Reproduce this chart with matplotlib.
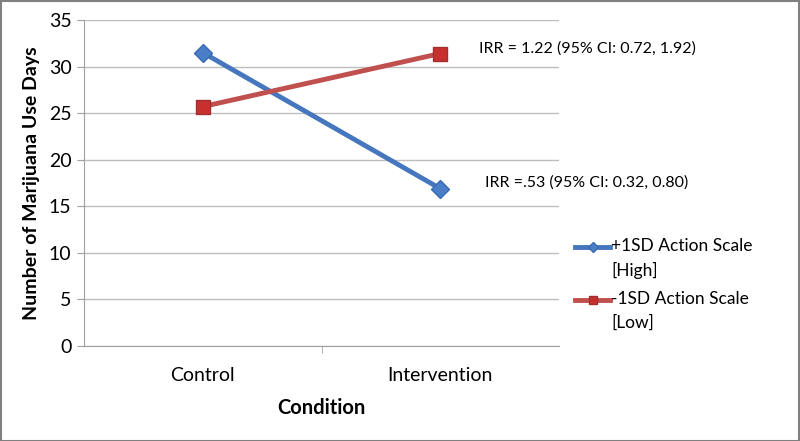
import matplotlib
matplotlib.use("Agg")
import matplotlib.pyplot as plt
from matplotlib.patches import Rectangle
from matplotlib.lines import Line2D

plt.rcParams['font.family'] = ['Lato', 'DejaVu Sans']

categories = ["Control", "Intervention"]
high_vals = [31.5, 16.9]
low_vals = [25.7, 31.4]
high_label = "+1SD Action Scale\n[High]"
low_label = "-1SD Action Scale\n[Low]"
ann_low = "IRR = 1.22 (95% CI: 0.72, 1.92)"
ann_high = "IRR =.53 (95% CI: 0.32, 0.80)"
yticks = [0, 5, 10, 15, 20, 25, 30, 35]

fig = plt.figure(figsize=(8, 4.41), dpi=100)
ax = fig.add_axes([84/800, 1-346/441, (559-84)/800, (346-20)/441])

x = [0.5, 1.5]
hl, = ax.plot(x, high_vals, color='#4677BE', lw=3.5, marker='D', ms=9, mfc='#4A7EC8', mec='#3A6AAE', label=high_label, zorder=3)
ll, = ax.plot(x, low_vals, color='#C0504D', lw=3.5, marker='s', ms=10, mfc='#C8302E', mec='#A03030', label=low_label, zorder=3)

ax.set_xlim(0, 2)
ax.set_ylim(0, 35)
ax.set_yticks(yticks)
ax.set_yticklabels([str(v) for v in yticks], fontsize=14)
ax.set_xticks(x)
ax.set_xticklabels(categories, fontsize=14)
ax.tick_params(axis='x', length=0, pad=15)
ax.set_xticks([1.0], minor=True)
ax.tick_params(axis='x', which='minor', length=5, color='#A0A0A0', direction='out')
ax.tick_params(axis='y', length=5, color='#A0A0A0', pad=4)
ax.grid(axis='y', color='#BEBEBE', lw=1)
ax.set_axisbelow(True)
for s in ['top', 'right']:
    ax.spines[s].set_visible(False)
ax.spines['left'].set_color('#A0A0A0')
ax.spines['bottom'].set_color('#A0A0A0')
ax.set_ylabel("Number of Marijuana Use Days", fontsize=14, fontweight='bold', labelpad=6)
ax.set_xlabel("Condition", fontsize=14.5, fontweight='bold', labelpad=10)

ax.text(1.665, 31.9, ann_low, fontsize=11.5, va='center', ha='left')
ax.text(1.69, 17.6, ann_high, fontsize=11.5, va='center', ha='left')

# legend drawn manually so the handle aligns with the first text line
for line, ypix in [(hl, 247), (ll, 300)]:
    yf = 1 - ypix/441
    fig.add_artist(Line2D([575/800, 610/800], [yf, yf], transform=fig.transFigure,
                          color=line.get_color(), lw=3.5))
    fig.add_artist(Line2D([592.5/800], [yf], transform=fig.transFigure,
                          marker=line.get_marker(), ms=line.get_markersize()*0.6,
                          mfc=line.get_markerfacecolor(), mec=line.get_markeredgecolor(), ls='none'))
    fig.text(611/800, yf + 9/441, line.get_label(), fontsize=12.5, va='top', ha='left',
             linespacing=1.6)

fig.patches.append(Rectangle((0.001, 0.001), 0.998, 0.997, transform=fig.transFigure,
                             fill=False, edgecolor='#808080', lw=1.5))

fig.savefig("out.png", dpi=100)
